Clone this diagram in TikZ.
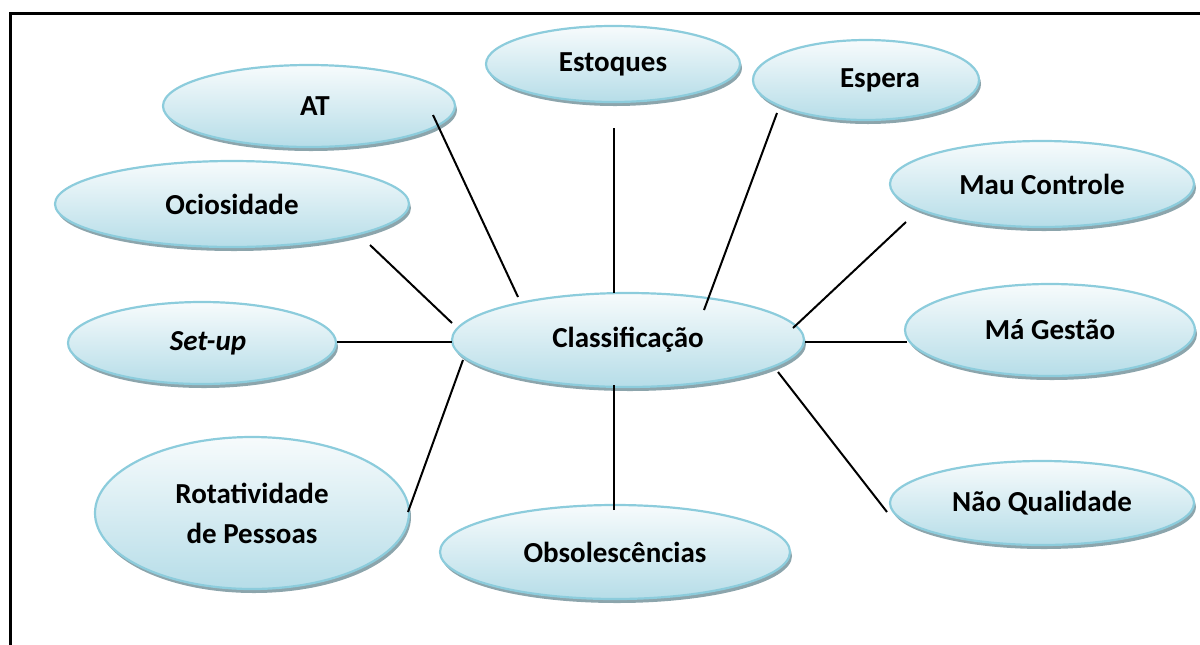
\documentclass[tikz,border=0pt]{standalone}
\usepackage{fontspec}
\setmainfont{Carlito}
\usepackage{tikz}
\usetikzlibrary{calc,shapes.geometric,shadows}

\definecolor{bolhaborda}{RGB}{140,204,220}
\definecolor{bolhatopo}{RGB}{247,251,252}
\definecolor{bolhabase}{RGB}{182,221,232}
\definecolor{bolhasombra}{RGB}{140,165,172}

\tikzset{
	bolha/.style={ellipse, draw=bolhaborda, line width=1.1pt, top color=bolhatopo, bottom color=bolhabase,
		drop shadow={shadow xshift=1pt, shadow yshift=-2pt, fill=bolhasombra, opacity=1},
		inner sep=0pt, align=center, font=\bfseries\fontsize{14.5}{20}\selectfont},
	ligacao/.style={line width=1pt}
}

\begin{document}
\begin{tikzpicture}[x=0.5pt,y=-0.5pt]
			\useasboundingbox (0,0) rectangle (1200,644);
			\draw[line width=1.5pt] (10,660) |- (1210,13);

			% centro
			\node[bolha, minimum width=176pt, minimum height=47pt] (classif) at (628,340) {Classifica\c{c}\~ao};

			% causas
			\node[bolha, minimum width=146pt, minimum height=41pt] (at) at (309,106) {\hspace*{6pt}AT};
			\node[bolha, minimum width=127pt, minimum height=38pt] (estoq) at (613,64) {Estoques};
			\node[bolha, minimum width=113pt, minimum height=40pt] (espera) at (866,80) {\hspace*{14pt}Espera};
			\node[bolha, minimum width=177pt, minimum height=43pt] (ocios) at (232,204) {Ociosidade};
			\node[bolha, minimum width=152pt, minimum height=43pt] (mauctrl) at (1042,184) {Mau Controle};
			\node[bolha, minimum width=134pt, minimum height=41pt] (setup) at (202,343) {\hspace*{6pt}\textit{Set-up}};
			\node[bolha, minimum width=145pt, minimum height=46pt] (magest) at (1050,330) {M\'a Gest\~ao};
			\node[bolha, minimum width=157pt, minimum height=76pt] (rotat) at (252,513) {Rotatividade\\de Pessoas};
			\node[bolha, minimum width=175pt, minimum height=47pt] (obsol) at (615,552) {Obsolesc\^encias};
			\node[bolha, minimum width=152pt, minimum height=42pt] (naoqual) at (1042,503) {N\~ao Qualidade};

			% ligacoes
			\draw[ligacao] ($(at)+(124,9)$) -- ($(classif)+(-110,-43)$);
			\draw[ligacao] ($(estoq)+(1,64)$) -- ($(classif)+(-14,-47)$);
			\draw[ligacao] ($(espera)+(-89,33)$) -- ($(classif)+(76,-30)$);
			\draw[ligacao] ($(mauctrl)+(-136,38)$) -- ($(classif)+(165,-12)$);
			\draw[ligacao] ($(ocios)+(138,41)$) -- ($(classif)+(-176,-17)$);
			\draw[ligacao] ($(setup)+(135,-1)$) -- ($(classif)+(-176,2)$);
			\draw[ligacao] ($(magest)+(-143,12)$) -- ($(classif)+(177,2)$);
			\draw[ligacao] ($(rotat)+(156,-1)$) -- ($(classif)+(-165,20)$);
			\draw[ligacao] ($(obsol)+(-1,-42)$) -- ($(classif)+(-14,45)$);
			\draw[ligacao] ($(naoqual)+(-155,9)$) -- ($(classif)+(150,32)$);
		\end{tikzpicture}
\end{document}
